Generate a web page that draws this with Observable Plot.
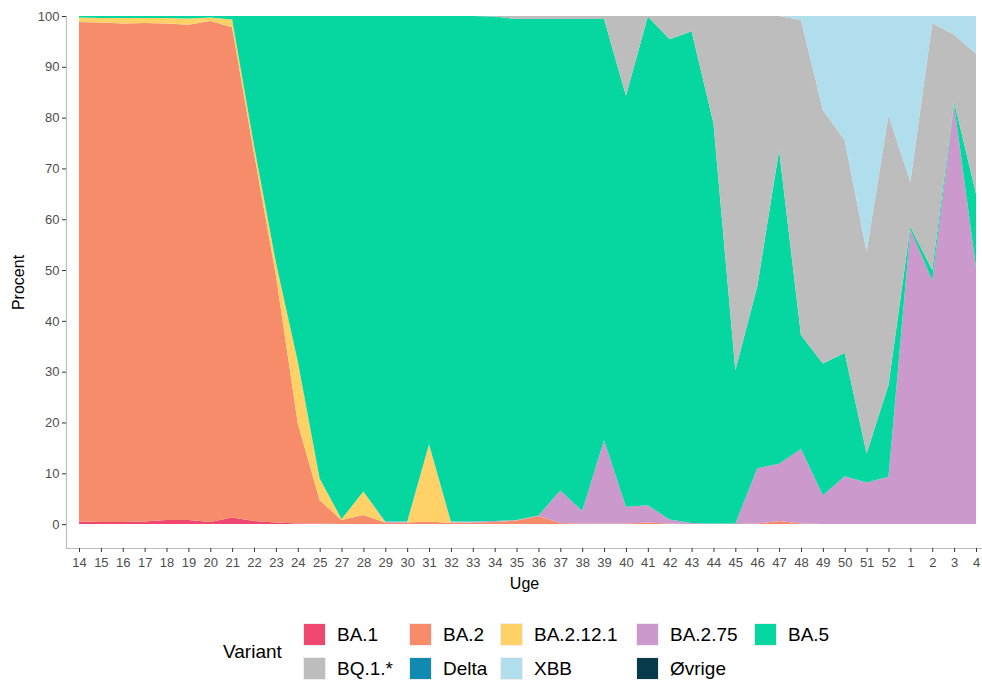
<!DOCTYPE html>
<html>
<head>
<meta charset="utf-8">
<script src="https://cdn.jsdelivr.net/npm/d3@7"></script>
<script src="https://cdn.jsdelivr.net/npm/@observablehq/plot@0.6"></script>
<style>
  html, body { margin: 0; padding: 0; background: #fff; }
  body { font-family: "Liberation Sans", Arial, sans-serif; }
  #wrap { position: relative; width: 982px; height: 683px; overflow: hidden; }
  #chart { position: absolute; left: 0; top: 0; }
  #legend { position: absolute; left: 223px; top: 623px; display: flex; align-items: center; font-size: 19px; color: #000; }
  #legend .title { width: 80px; }
  #legend .grid { display: grid; grid-template-columns: 106px 91px 136px 118px auto; row-gap: 11px; }
  #legend .item { display: flex; align-items: center; height: 23px; }
  #legend .sw { width: 23px; height: 23px; margin-right: 11px; box-sizing: border-box; border: 1px solid #eee; }
</style>
</head>
<body>
<div id="wrap">
  <div id="chart"></div>
  <div id="legend"></div>
</div>
<script>
const weeks = ["14","15","16","17","18","19","20","21","22","23","24","25",
  "27","28","29","30","31","32","33","34","35","36","37","38","39","40","41","42","43","44","45","46","47","48","49","50","51","52",
  "1","2","3","4"];

const variants = ["BA.1","BA.2","BA.2.12.1","BA.2.75","BA.5","BQ.1.*","Delta","XBB","Øvrige"];
const colors = ["#EF476F","#F78C6B","#FFD166","#CC99CC","#06D6A0","#BDBDBD","#118AB2","#B0DEEC","#073B4C"];

const ba1 = [0.5,0.4,0.4,0.5,0.8,0.8,0.4,1.3,0.6,0.3,0.1,0.1,
  0,0,0,0,0,0,0,0,0,0,0,0,0,0,0,0,0,0,0,0,0,0,0,0,0,0,
  0,0,0,0];
const ba2 = [98.3,98.3,98.1,98.1,97.7,97.5,98.6,96.5,72.4,48.7,19.7,4.6,
  0.8,1.8,0.3,0.3,0.5,0.2,0.3,0.4,0.7,1.6,0.2,0.1,0.1,0.1,0.3,0.1,0,0,0,0.1,0.6,0.1,0,0,0,0,
  0,0,0,0];
const ba2121 = [0.9,0.9,1.1,1.0,1.1,1.2,0.7,1.5,1.5,2.5,12.2,4.3,
  0.2,4.6,0,0,15.2,0.1,0,0,0,0,0,0,0,0,0,0,0,0,0,0,0,0,0,0,0,0,
  0,0,0,0];
const ba275 = [0,0,0,0,0,0,0,0,0,0,0,0,
  0,0,0.2,0.2,0,0.2,0.2,0.2,0.1,0.1,6.4,2.5,16.4,3.3,3.4,0.8,0.2,0.1,0.1,10.9,11.3,14.7,5.7,9.4,8.2,9.3,
  58.0,48.0,82.6,50.5];
const ba5 = [0.3,0.4,0.4,0.4,0.4,0.5,0.3,0.7,25.5,48.5,68.0,91.0,
  99.0,93.6,99.5,99.5,84.3,99.5,99.5,99.3,98.6,97.7,92.8,96.8,82.9,80.9,96.2,94.5,96.8,78.8,30.2,35.7,61.7,22.4,25.9,24.3,5.7,18.1,
  0.5,2.0,0.5,14.5];
const bq1 = [0,0,0,0,0,0,0,0,0,0,0,0,
  0,0,0,0,0,0,0,0.1,0.6,0.6,0.6,0.6,0.6,15.7,0.1,4.6,3.0,21.1,69.7,53.3,26.4,62.0,49.9,41.9,39.7,53.1,
  8.9,48.6,13.2,27.6];
const delta = [0,0,0,0,0,0,0,0,0,0,0,0,
  0,0,0,0,0,0,0,0,0,0,0,0,0,0,0,0,0,0,0,0,0,0,0,0,0,0,
  0,0,0,0];
const xbb = [0,0,0,0,0,0,0,0,0,0,0,0,
  0,0,0,0,0,0,0,0,0,0,0,0,0,0,0,0,0,0,0,0,0,0.8,18.5,24.4,46.4,19.5,
  32.6,1.4,3.7,7.4];
const oevrige = [0,0,0,0,0,0,0,0,0,0,0,0,
  0,0,0,0,0,0,0,0,0,0,0,0,0,0,0,0,0,0,0,0,0,0,0,0,0,0,
  0,0,0,0];

const yTicks = [0,10,20,30,40,50,60,70,80,90,100];

const series = [ba1, ba2, ba2121, ba275, ba5, bq1, delta, xbb, oevrige];
const data = [];
variants.forEach((v, k) => {
  weeks.forEach((w, i) => data.push({week: w, variant: v, value: series[k][i]}));
});

const fontFamily = '"Liberation Sans", Arial, sans-serif';

const chart = Plot.plot({
  width: 982,
  height: 600,
  marginLeft: 66,
  marginRight: 0,
  marginTop: 16,
  marginBottom: 52,
  style: {fontFamily, fontSize: "13px", background: "#fff"},
  x: {type: "point", domain: weeks, range: [79, 976], padding: 0},
  y: {domain: [-4.7, 100], range: [548, 16]},
  color: {domain: variants, range: colors},
  marks: [
    Plot.areaY(data, {x: "week", y: "value", fill: "variant", curve: "linear"}),
    Plot.frame({anchor: "left", stroke: "#bdbdbd", strokeWidth: 1.2}),
    Plot.frame({anchor: "bottom", stroke: "#bdbdbd", strokeWidth: 1.2}),
    Plot.axisY(yTicks, {tickSize: 4, tickPadding: 3, fontSize: 13, fill: "#4d4d4d", stroke: "#333", label: null}),
    Plot.axisX(weeks, {tickSize: 4, tickPadding: 5, fontSize: 13, fill: "#4d4d4d", stroke: "#333", label: null}),
    Plot.axisY([], {label: "Procent", labelArrow: "none", labelAnchor: "center", labelOffset: 54, fontSize: 16, fill: "#000", tickSize: 0}),
    Plot.axisX([], {label: "Uge", labelArrow: "none", labelAnchor: "center", labelOffset: 40, fontSize: 16, fill: "#000", tickSize: 0})
  ]
});
document.getElementById("chart").appendChild(chart);

// Legend (HTML), built from the same named arrays
const legend = document.getElementById("legend");
const title = document.createElement("div");
title.className = "title";
title.textContent = "Variant";
legend.appendChild(title);
const grid = document.createElement("div");
grid.className = "grid";
variants.forEach((v, k) => {
  const item = document.createElement("div");
  item.className = "item";
  const sw = document.createElement("span");
  sw.className = "sw";
  sw.style.background = colors[k];
  const lab = document.createElement("span");
  lab.textContent = v;
  item.appendChild(sw);
  item.appendChild(lab);
  grid.appendChild(item);
});
legend.appendChild(grid);
</script>
</body>
</html>
